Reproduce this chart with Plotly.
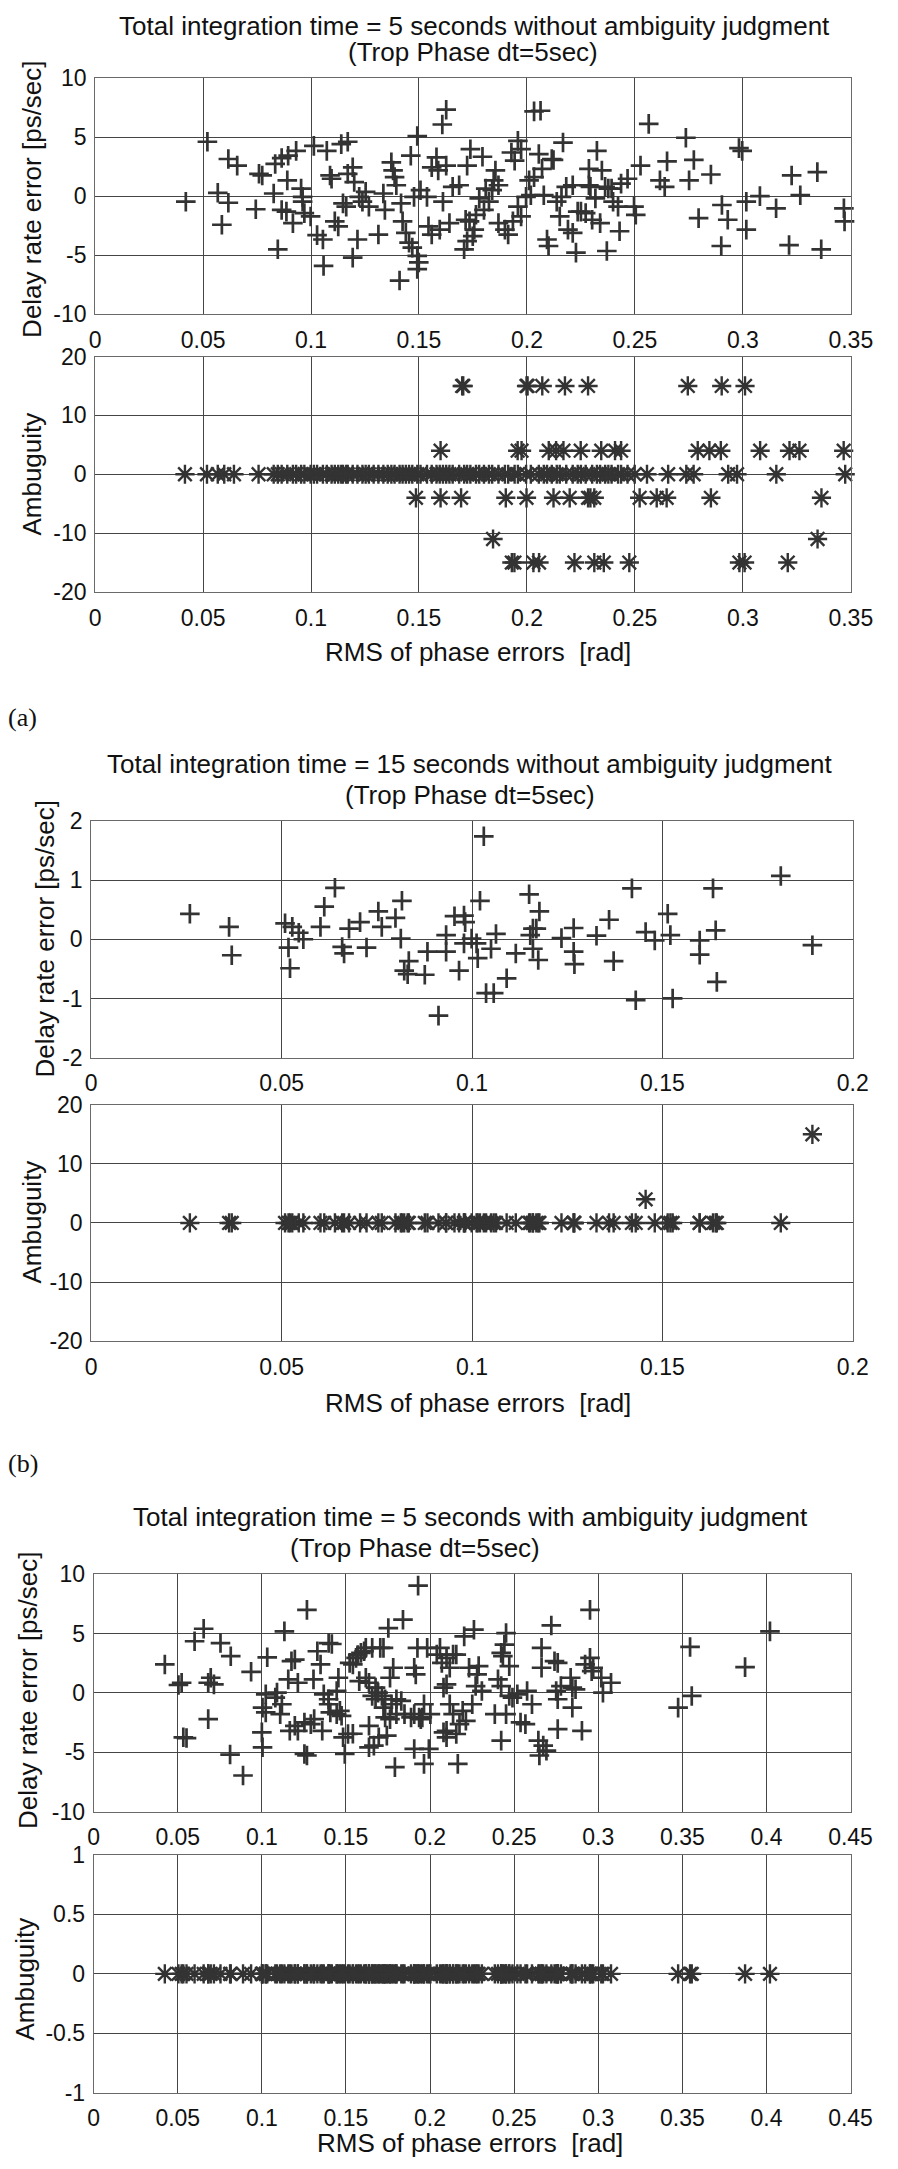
import plotly.graph_objects as go

# ---------------- DATA ----------------
# (a) 5 s without ambiguity judgment: delay rate error vs RMS phase error
rms_a = [0.042, 0.052, 0.0568, 0.0617, 0.0617, 0.0658, 0.0587, 0.0744, 0.0759, 0.0774,
         0.0827, 0.0834, 0.0846, 0.0864, 0.089, 0.0894, 0.0864, 0.0886, 0.0931, 0.0916,
         0.0954, 0.0961, 0.0961, 0.0969, 0.1013, 0.0998, 0.1028, 0.1055, 0.1058, 0.1073,
         0.1088, 0.1095, 0.111, 0.1126, 0.114, 0.117, 0.117, 0.1193, 0.12, 0.1148,
         0.1163, 0.1193, 0.1215, 0.1223, 0.1238, 0.1253, 0.1268, 0.1312, 0.1335, 0.1342,
         0.1372, 0.138, 0.1387, 0.1395, 0.141, 0.1417, 0.1424, 0.1439, 0.1454, 0.1462,
         0.1469, 0.1492, 0.1477, 0.1492, 0.1499, 0.1492, 0.1507, 0.1537, 0.1544, 0.1559,
         0.1559, 0.1581, 0.1589, 0.1596, 0.1611, 0.1608, 0.1626, 0.1626, 0.1641, 0.1656,
         0.1686, 0.1709, 0.1716, 0.1723, 0.1738, 0.1723,
         0.1794, 0.1958, 0.1928, 0.1973, 0.1943, 0.1854, 0.1846, 0.1868, 0.1839, 0.1809,
         0.1779, 0.1824, 0.1801, 0.1764, 0.1734, 0.1756, 0.1749, 0.1868, 0.1898, 0.1913,
         0.1935, 0.1973, 0.1958, 0.1996, 0.2018, 0.201, 0.2033, 0.2033, 0.2063, 0.2055,
         0.207, 0.2078, 0.2093, 0.21, 0.2115, 0.2123, 0.2138, 0.2152, 0.216, 0.2167,
         0.2182, 0.219, 0.2212, 0.2212, 0.2227, 0.2235, 0.225, 0.2272, 0.2287, 0.2287,
         0.2302, 0.2294, 0.2324, 0.2317, 0.2339, 0.2347, 0.2362, 0.237, 0.2377, 0.2392,
         0.2399, 0.2422, 0.2429, 0.2436, 0.2466, 0.2496, 0.2504, 0.2526, 0.2564, 0.2616,
         0.2638, 0.2649, 0.2736, 0.2751, 0.2773, 0.2795, 0.2852, 0.2903, 0.29, 0.293,
         0.2982, 0.2997, 0.3016, 0.3016, 0.3079, 0.3154, 0.3214, 0.3226, 0.3266, 0.3345,
         0.3363, 0.3468, 0.3471]
rate_a = [-0.47, 4.6, 0.28, 3.14, -0.56, 2.58, -2.42, -1.11, 1.89, 1.75,
          0.22, 2.72, -4.5, 3.22, 1.33, 3.42, -1.17, -1.31, 3.83, -2.28,
          0.64, -0.06, -0.47, -1.44, 4.25, -1.72, -3.3, -3.67, -5.9, 3.83,
          1.75, 1.47, -2.14, -2.56, 4.4, 4.6, 1.89, 2.44, 1.19, -0.61,
          -0.89, -5.2, -3.67, -0.06, -0.47, 0.36, -0.89, -3.25, 0.22, -1.17,
          2.86, 2.17, 1.61, 0.92, -7.14, -0.61, -2.14, -3.11, -3.94, 3.42,
          -4.36, 5.08, -0.06, -5.06, -5.61, -6.17, 0.5, -0.06, -2.56, -3.25,
          2.44, 3.28, 2.17, -2.83, -0.47, 6.06, 7.31, 2.58, -2.28, 0.78,
          0.92, -4.5, -2.0, 2.58, 3.97, -3.81,
          3.33, 4.67, 3.69, 3.97, 3.0, 2.17, 1.33, 0.92, 0.5, 0.64,
          -0.19, -0.47, -1.17, -1.58, -2.14, -2.83, -3.39, -2.28, -2.83, -3.25,
          -2.14, -1.72, -0.89, -0.06, 0.08, 1.33, 1.61, 7.17, 7.22, 3.56,
          2.31, 0.08, -3.67, -4.22, 3.14, 3.06, -0.47, -1.72, -0.06, 4.53,
          0.78, -2.83, 0.92, -3.11, -4.78, -1.31, -1.31, -1.44, 2.31, 0.92,
          -2.0, 0.78, 3.83, -0.19, -2.28, 2.17, 0.78, -4.64, 0.64, 0.64,
          -0.47, -0.89, -2.97, 1.06, 1.47, -0.89, -1.58, 2.58, 6.11, 1.33,
          0.78, 2.94, 4.94, 1.33, 3.06, -1.86, 1.83, -0.75, -4.22, -2.0,
          4.06, 3.83, -0.47, -2.83, 0.0, -1.03, -4.14, 1.75, 0.08, 2.03,
          -4.5, -1.03, -2.14]

# (a) ambiguity vs RMS phase error
amb_a_x = [0.1700, 0.1705, 0.1998, 0.2003, 0.2071, 0.2176, 0.2283, 0.2745, 0.2902, 0.3010,
           0.1600, 0.1957, 0.1975, 0.2101, 0.2135, 0.2169, 0.2249, 0.2344, 0.2408, 0.2436,
           0.2791, 0.2845, 0.2898, 0.3080, 0.3216, 0.3262, 0.3467,
           0.0416, 0.0518, 0.0568, 0.0598, 0.0643, 0.0757,
           0.0827, 0.0846, 0.0864, 0.0890, 0.0916, 0.0931, 0.0954, 0.0969, 0.0998, 0.1013,
           0.1028, 0.1055, 0.1073, 0.1095, 0.1110, 0.1126, 0.1140, 0.1148, 0.1163, 0.1170,
           0.1193, 0.1215, 0.1238, 0.1253, 0.1268, 0.1290, 0.1312, 0.1335, 0.1355, 0.1372,
           0.1387, 0.1410, 0.1424, 0.1439, 0.1454, 0.1469, 0.1492, 0.1507, 0.1537, 0.1559,
           0.1581, 0.1596, 0.1611, 0.1626, 0.1641, 0.1656, 0.1686, 0.1709, 0.1723, 0.1738,
           0.1764, 0.1779, 0.1801, 0.1824, 0.1839, 0.1868, 0.1898, 0.1913, 0.1943, 0.1958,
           0.1996, 0.2018, 0.2055, 0.2078, 0.2093, 0.2115, 0.2138, 0.2152, 0.2182, 0.2212,
           0.2235, 0.2250, 0.2272, 0.2302, 0.2324, 0.2339, 0.2362, 0.2377, 0.2392, 0.2422,
           0.2436, 0.2466,
           0.2499, 0.2556, 0.2654, 0.2738, 0.2772, 0.2932, 0.2973, 0.3155, 0.3474,
           0.1486, 0.1600, 0.1695, 0.1902, 0.1998, 0.2123, 0.2198, 0.2283, 0.2294, 0.2312,
           0.2522, 0.2601, 0.2647, 0.2852, 0.3364,
           0.1843, 0.3346,
           0.1930, 0.1942, 0.2030, 0.2056, 0.2220, 0.2312, 0.2356, 0.2474, 0.2984, 0.3008, 0.3208]
amb_a = [15, 15, 15, 15, 15, 15, 15, 15, 15, 15,
         4, 4, 4, 4, 4, 4, 4, 4, 4, 4,
         4, 4, 4, 4, 4, 4, 4,
         0, 0, 0, 0, 0, 0,
         0, 0, 0, 0, 0, 0, 0, 0, 0, 0,
         0, 0, 0, 0, 0, 0, 0, 0, 0, 0,
         0, 0, 0, 0, 0, 0, 0, 0, 0, 0,
         0, 0, 0, 0, 0, 0, 0, 0, 0, 0,
         0, 0, 0, 0, 0, 0, 0, 0, 0, 0,
         0, 0, 0, 0, 0, 0, 0, 0, 0, 0,
         0, 0, 0, 0, 0, 0, 0, 0, 0, 0,
         0, 0, 0, 0, 0, 0, 0, 0, 0, 0,
         0, 0,
         0, 0, 0, 0, 0, 0, 0, 0, 0,
         -4, -4, -4, -4, -4, -4, -4, -4, -4, -4,
         -4, -4, -4, -4, -4,
         -11, -11,
         -15, -15, -15, -15, -15, -15, -15, -15, -15, -15, -15]

# (b) 15 s without ambiguity judgment
rms_b = [0.0259, 0.0362, 0.0369, 0.0509, 0.0528, 0.0545, 0.0518, 0.0557, 0.0522, 0.0612,
         0.0640, 0.0602, 0.0659, 0.0664, 0.0677, 0.0706, 0.0723, 0.0754, 0.0763, 0.0799,
         0.0816, 0.0813, 0.0834, 0.0822, 0.0831, 0.0876, 0.0883, 0.0912, 0.0932, 0.0932,
         0.0954, 0.0966, 0.0979, 0.0982, 0.0979, 0.0999, 0.1012, 0.1021, 0.1031, 0.1015,
         0.1037, 0.1057, 0.1050, 0.1063, 0.1091, 0.1115, 0.1150, 0.1160, 0.1169, 0.1153,
         0.1177, 0.1160, 0.1174, 0.1235, 0.1267, 0.1267, 0.1269, 0.1327, 0.1360, 0.1372,
         0.1420, 0.1430, 0.1456, 0.1480, 0.1514, 0.1521, 0.1527, 0.1598, 0.1598, 0.1633,
         0.1640, 0.1643, 0.1811, 0.1894]
rate_b = [0.43, 0.21, -0.27, 0.27, 0.21, 0.11, -0.14, 0.0, -0.49, 0.55,
          0.87, 0.21, -0.13, -0.24, 0.18, 0.29, -0.14, 0.47, 0.21, 0.36,
          0.65, 0.01, -0.37, -0.53, -0.59, -0.60, -0.21, -1.29, 0.07, -0.21,
          0.39, -0.53, 0.40, 0.29, -0.07, 0.01, -0.07, 0.65, 1.74, -0.32,
          -0.91, -0.91, -0.16, 0.09, -0.66, -0.24, 0.76, 0.18, 0.18, 0.07,
          0.47, -0.16, -0.35, 0.02, 0.19, -0.21, -0.42, 0.06, 0.33, -0.37,
          0.86, -1.03, 0.12, -0.02, 0.43, 0.07, -1.00, -0.02, -0.26, 0.86,
          0.15, -0.72, 1.07, -0.10]
amb_b = [0, 0, 0, 0, 0, 0, 0, 0, 0, 0,
         0, 0, 0, 0, 0, 0, 0, 0, 0, 0,
         0, 0, 0, 0, 0, 0, 0, 0, 0, 0,
         0, 0, 0, 0, 0, 0, 0, 0, 0, 0,
         0, 0, 0, 0, 0, 0, 0, 0, 0, 0,
         0, 0, 0, 0, 0, 0, 0, 0, 0, 0,
         0, 0, 4, 0, 0, 0, 0, 0, 0, 0,
         0, 0, 0, 15]

# (c) 5 s with ambiguity judgment
rms_c = [0.0423, 0.0523, 0.0504, 0.0654, 0.0600, 0.0681, 0.0696, 0.0715, 0.0681, 0.0754,
         0.0815, 0.0533, 0.0552, 0.0811, 0.0888, 0.0936, 0.1032, 0.1023, 0.1004, 0.1023,
         0.1000, 0.1004, 0.1090, 0.1119, 0.1134, 0.1176, 0.1196, 0.1157, 0.1214, 0.1166,
         0.1196, 0.1253, 0.1268, 0.1268, 0.1253, 0.1311, 0.1307, 0.1330, 0.1349, 0.1359,
         0.1397, 0.1416, 0.1397, 0.1407, 0.1445, 0.1474, 0.1445, 0.1455, 0.1493, 0.1512,
         0.1541, 0.1560, 0.1589, 0.1618, 0.1637, 0.1656, 0.1676, 0.1637, 0.1666, 0.1695,
         0.1704, 0.1723, 0.1691, 0.1723, 0.1733, 0.1743, 0.1752, 0.1762, 0.1781, 0.1791,
         0.1800, 0.1839, 0.1829, 0.1848, 0.1906, 0.1915, 0.1906, 0.1887, 0.1925, 0.1935,
         0.1929, 0.1945, 0.1964, 0.1983, 0.1993, 0.2040, 0.2070, 0.2098, 0.2117, 0.2137,
         0.2080, 0.2098, 0.2165, 0.2156, 0.2203, 0.2232, 0.2213, 0.2261, 0.2271, 0.2251,
         0.2452, 0.2442, 0.2423, 0.2433, 0.2471, 0.2289, 0.2308, 0.2404, 0.2423, 0.2471,
         0.2490, 0.2519, 0.2577, 0.2606, 0.2452, 0.2385, 0.2538, 0.2567, 0.2423, 0.2644,
         0.2673, 0.2650, 0.2692, 0.2721, 0.2663, 0.2663, 0.2740, 0.2759, 0.2750, 0.2778,
         0.2759, 0.2759, 0.2836, 0.2846, 0.2846, 0.2865, 0.2903, 0.2922, 0.2951, 0.2951,
         0.2970, 0.2961, 0.3018, 0.3028, 0.3076, 0.3546, 0.3556, 0.3475, 0.3873, 0.4021,
         0.1522, 0.1570, 0.1608, 0.1656, 0.1579, 0.1618, 0.1676, 0.1714, 0.1733, 0.1771,
         0.1762, 0.1800, 0.1906, 0.1954, 0.1964, 0.2002, 0.2059, 0.2098, 0.2117, 0.2137,
         0.2080, 0.2098, 0.2156, 0.2175, 0.2194, 0.2280, 0.1368, 0.1397, 0.1291, 0.1214,
         0.1080, 0.1109, 0.1464, 0.1483, 0.1541, 0.1637]
rate_c = [2.40, 0.86, 0.67, 5.40, 4.35, 0.86, 1.28, 0.72, -2.20, 4.20,
          3.09, -3.73, -3.79, -5.18, -6.94, 1.78, 3.00, -0.11, -1.23, -1.64,
          -3.31, -4.57, 0.03, -0.95, 5.18, 2.67, 2.81, 1.14, 0.86, -3.18,
          -2.76, -5.13, -5.26, 6.99, -2.48, -2.20, 1.14, 3.51, 2.40, -3.18,
          4.20, 4.12, -0.95, -1.64, -1.78, -1.92, 0.17, 1.28, -5.13, -3.45,
          2.40, 2.95, 3.37, 3.79, 0.86, -0.25, -0.53, -2.76, -4.43, -3.73,
          3.79, 3.79, 0.03, -1.23, -2.06, -3.59, 5.46, 1.28, 2.12, -6.24,
          -0.53, 6.16, -0.67, -1.78, 2.12, 1.56, -4.71, -2.06, 3.79, -2.06,
          9.03, -2.20, -5.96, 3.79, -4.71, 3.23, 2.53, 0.72, -0.95, -1.78,
          -3.31, -3.73, -5.96, 3.23, 4.76, 2.12, -2.34, 5.32, 0.58, -0.95,
          5.04, 4.07, 3.37, 3.09, 2.26, 2.26, 0.17, 1.14, 0.58, -0.25,
          -0.39, -0.11, 0.17, -0.95, -1.78, -1.78, -2.48, -2.62, -4.01, -4.01,
          -4.43, -5.26, -4.85, 5.68, 3.79, 2.12, 2.67, 2.53, 0.17, 0.58,
          -0.53, -3.04, 1.28, 0.45, -1.23, 0.31, -3.18, 2.40, 6.99, 2.95,
          2.12, 1.84, 1.28, 0.03, 0.86, 3.87, -0.25, -1.23, 2.17, 5.18,
          2.53, 3.18, 3.51, 3.79, 1.00, 1.28, 0.45, -0.25, -0.53, -0.95,
          -2.20, -1.78, -1.78, -2.06, -0.95, -1.78, 3.79, 2.95, 2.12, 3.23,
          0.45, -3.18, -3.45, -2.62, -1.50, 1.56, -0.11, -0.53, -2.62, -3.18,
          -0.39, -1.78, -1.50, -3.73, -3.43, -4.57]
amb_c = [0] * len(rms_c)   # every ambiguity is zero after judgment

assert len(rms_a) == len(rate_a)
assert len(amb_a_x) == len(amb_a)
assert len(rms_b) == len(rate_b) == len(amb_b)
assert len(rms_c) == len(rate_c)

x_ticks_a = [0, 0.05, 0.1, 0.15, 0.2, 0.25, 0.3, 0.35]
x_ticks_b = [0, 0.05, 0.1, 0.15, 0.2]
x_ticks_c = [0, 0.05, 0.1, 0.15, 0.2, 0.25, 0.3, 0.35, 0.4, 0.45]
y_ticks_rate10 = [-10, -5, 0, 5, 10]
y_ticks_rate2 = [-2, -1, 0, 1, 2]
y_ticks_amb20 = [-20, -10, 0, 10, 20]
y_ticks_amb1 = [-1, -0.5, 0, 0.5, 1]

titles = [
    ("Total integration time = 5 seconds without ambiguity judgment", "(Trop Phase dt=5sec)"),
    ("Total integration time = 15 seconds without ambiguity judgment", "(Trop Phase dt=5sec)"),
    ("Total integration time = 5 seconds with ambiguity judgment", "(Trop Phase dt=5sec)"),
]
rate_label = "Delay rate error [ps/sec]"
amb_label = "Ambuguity"
x_label = "RMS of phase errors  [rad]"

# ---------------- LAYOUT ----------------
W, H = 898, 2169
def fx(p):
    return p / W
def fy(p):
    return 1 - p / H

SANS = "Liberation Sans, Arial, Helvetica, sans-serif"
NARROW = "Liberation Sans Narrow, Arial Narrow, Liberation Sans, Arial, sans-serif"
SERIF = "Liberation Serif, Times New Roman, serif"
INK = "#333333"
GRID = "#454545"
FRAME = "#6a6a6a"


def fmt(v):
    return "%g" % v


# (xticks, yticks, left, right, top, bottom)
panels = [
    (x_ticks_a, y_ticks_rate10, 92, 872, 65.7, 305.0),
    (x_ticks_a, y_ticks_amb20, 92, 872, 347.7, 586.0),
    (x_ticks_b, y_ticks_rate2, 88, 874, 817.7, 1057.3),
    (x_ticks_b, y_ticks_amb20, 88, 874, 1105.0, 1344.3),
    (x_ticks_c, y_ticks_rate10, 90.5, 871.7, 1580.0, 1820.7),
    (x_ticks_c, y_ticks_amb1, 90.5, 871.7, 1864.3, 2105.0),
]

fig = go.Figure()
layout_axes = {}
for i, (xt, yt, l, r, t, b) in enumerate(panels, start=1):
    sfx = "" if i == 1 else str(i)
    common = dict(showgrid=True, gridcolor=GRID, gridwidth=1, zeroline=False,
                  showline=True, linecolor=FRAME, linewidth=1, mirror=True,
                  ticks="", tickfont=dict(family=NARROW, size=23, color="#111111"))
    layout_axes["xaxis" + sfx] = dict(
        common, domain=[fx(l), fx(r)], range=[xt[0], xt[-1]],
        tickvals=xt, ticktext=[fmt(v) for v in xt],
        anchor="y" + sfx, ticklabelstandoff=5)
    layout_axes["yaxis" + sfx] = dict(
        common, domain=[fy(b), fy(t)], range=[yt[0], yt[-1]],
        tickvals=yt, ticktext=[fmt(v) for v in yt],
        anchor="x" + sfx, ticklabelstandoff=3)

plus = dict(symbol="cross-thin", size=14, color=INK, line=dict(width=2.7, color=INK))
star = dict(symbol="asterisk", size=16, color=INK, line=dict(width=2.4, color=INK))

series = [
    (rms_a, rate_a, plus), (amb_a_x, amb_a, star),
    (rms_b, rate_b, plus), (rms_b, amb_b, star),
    (rms_c, rate_c, plus), (rms_c, amb_c, star),
]
for i, (xs, ys, mk) in enumerate(series, start=1):
    sfx = "" if i == 1 else str(i)
    fig.add_trace(go.Scatter(x=xs, y=ys, mode="markers", marker=mk,
                             xaxis="x" + sfx, yaxis="y" + sfx,
                             showlegend=False, cliponaxis=False, hoverinfo="skip"))

ann = []
def text(s, x, y, size=26, angle=0, family=SANS, xanchor="center"):
    ann.append(dict(text=s, x=fx(x), y=fy(y), xref="paper", yref="paper",
                    showarrow=False, textangle=angle, xanchor=xanchor, yanchor="middle",
                    font=dict(family=family, size=size, color="#111111")))

# panel titles
text(titles[0][0], 484, 13)
text(titles[0][1], 482, 39)
text(titles[1][0], 479, 760)
text(titles[1][1], 479, 791)
text(titles[2][0], 479, 1522)
text(titles[2][1], 422, 1554)
# y-axis titles
text(rate_label, 27, 189, angle=-90)
text(amb_label, 27, 467, angle=-90)
text(rate_label, 40, 937, angle=-90)
text(amb_label, 27, 1224, angle=-90)
text(rate_label, 22, 1698, angle=-90)
text(amb_label, 20, 1990, angle=-90)
# x-axis titles
text(x_label, 487, 647)
text(x_label, 487, 1407)
text(x_label, 479, 2156)
# sub-figure labels
text("(a)", 0, 713, size=26, family=SERIF, xanchor="left")
text("(b)", 0, 1468, size=26, family=SERIF, xanchor="left")

fig.update_layout(
    width=W, height=H, margin=dict(l=0, r=0, t=0, b=0),
    paper_bgcolor="white", plot_bgcolor="white", hovermode=False,
    annotations=ann, **layout_axes)

fig.write_html("out.html", config={"displayModeBar": False, "staticPlot": True})

# remove the browser's default page margin so the figure sits at (0, 0)
with open("out.html", "r", encoding="utf-8") as fh:
    page = fh.read()
page = page.replace("<head>", "<head><style>html,body{margin:0;padding:0;overflow:hidden;}</style>", 1)
with open("out.html", "w", encoding="utf-8") as fh:
    fh.write(page)
